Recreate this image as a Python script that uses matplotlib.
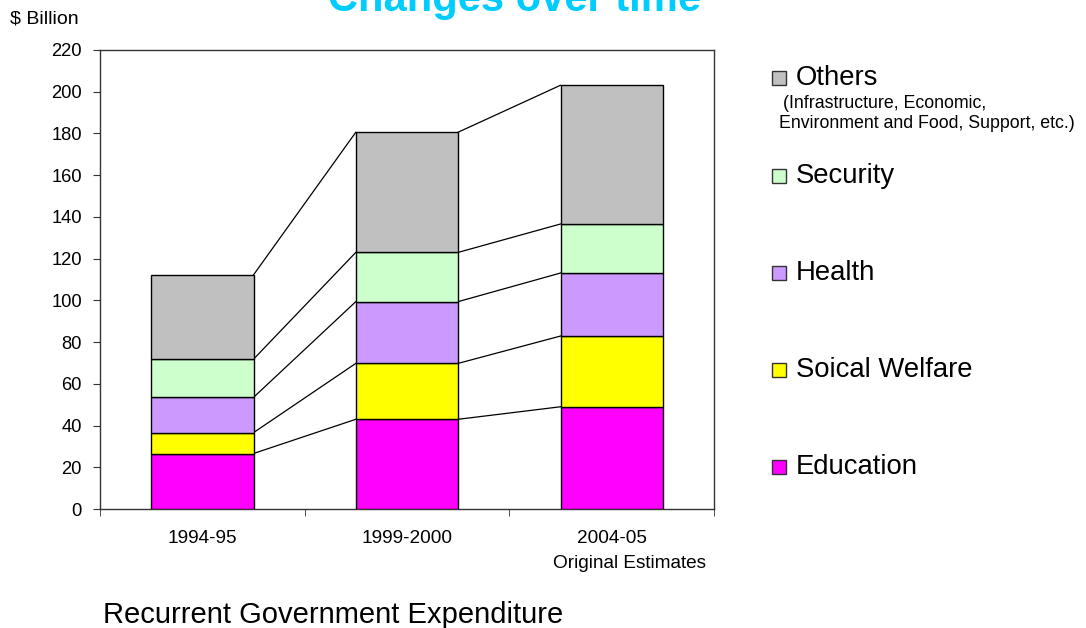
import matplotlib
matplotlib.use("Agg")
import matplotlib.pyplot as plt
from matplotlib.patches import Rectangle
import numpy as np

plt.rcParams['font.family'] = ['Liberation Sans', 'DejaVu Sans']

categories = ["1994-95", "1999-2000", "2004-05"]
category_note = "Original Estimates"
series_names = ["Education", "Soical Welfare", "Health", "Security", "Others"]
education = [26.6, 43.0, 49.0]
social_welfare = [10.0, 26.8, 33.9]
health = [16.9, 29.6, 30.2]
security = [18.3, 23.6, 23.5]
others = [40.4, 57.6, 66.5]
colors = ["#FF00FF", "#FFFF00", "#CC99FF", "#CCFFCC", "#C0C0C0"]
yticks = list(range(0, 221, 20))

W, H = 1086, 628
fig = plt.figure(figsize=(W / 100, H / 100), dpi=100)
ax = fig.add_axes([100 / W, 1 - 509 / H, 614 / W, 459 / H])

x = np.arange(len(categories))
bw = 0.5
bottom = np.zeros(len(categories))
tops = []
for vals, col in zip([education, social_welfare, health, security, others], colors):
    v = np.array(vals)
    ax.bar(x, v, bw, bottom=bottom, color=col, edgecolor="black", linewidth=1, zorder=3)
    bottom = bottom + v
    tops.append(bottom.copy())

# connector lines
for lvl in tops:
    for i in range(len(categories) - 1):
        ax.plot([x[i] + bw / 2, x[i + 1] - bw / 2], [lvl[i], lvl[i + 1]],
                color="black", linewidth=0.9, zorder=2)

ax.set_xlim(-0.5, len(categories) - 0.5)
ax.set_ylim(0, 220)
ax.set_yticks(yticks)
ax.set_yticklabels([str(t) for t in yticks], fontsize=13.2)
ax.set_xticks(x)
ax.set_xticklabels(categories, fontsize=13.7)
ax.set_xticks(np.arange(-0.5, len(categories), 1.0), minor=True)
ax.tick_params(axis="x", which="major", length=0, pad=15)
ax.tick_params(axis="x", which="minor", length=5, direction="out", color="#333333")
ax.tick_params(axis="y", length=5, direction="out", color="#333333", pad=8)
for s in ax.spines.values():
    s.set_color("#333333")
    s.set_linewidth(1.0)

# second line under the last category, slightly offset to the right
ax.annotate(category_note, xy=(x[-1], 0), xycoords=("data", "axes fraction"),
            xytext=(13, -39), textcoords="offset points", fontsize=13.7,
            ha="center", va="center", annotation_clip=False)

# title (partly clipped at the top, as in the reference)
fig.text(515 / W, 1 - 11 / H, "Changes over time", color="#00CCFF", fontsize=30,
         fontweight="bold", ha="center", va="baseline")
fig.text(10 / W, 1 - 19 / H, "$ Billion", fontsize=14, ha="left", va="center")
fig.text(103 / W, 1 - 615 / H, "Recurrent Government Expenditure", fontsize=21,
         ha="left", va="center")

# legend (manual)
legend_y = {"Others": 78, "Security": 176, "Health": 273, "Soical Welfare": 370, "Education": 467}
for name, col in zip(series_names, colors):
    yc = legend_y[name]
    fig.patches.append(Rectangle((772 / W, 1 - (yc + 7) / H), 14 / W, 14 / H,
                                 transform=fig.transFigure, facecolor=col,
                                 edgecolor="#333333", linewidth=1))
    fig.text(796 / W, 1 - yc / H, name, fontsize=19.8, ha="left", va="center")
fig.text(783 / W, 1 - 104 / H, "(Infrastructure, Economic,", fontsize=12.8,
         ha="left", va="center")
fig.text(779 / W, 1 - 124 / H, "Environment and Food, Support, etc.)", fontsize=12.8,
         ha="left", va="center")

fig.savefig("out.png", dpi=100)
